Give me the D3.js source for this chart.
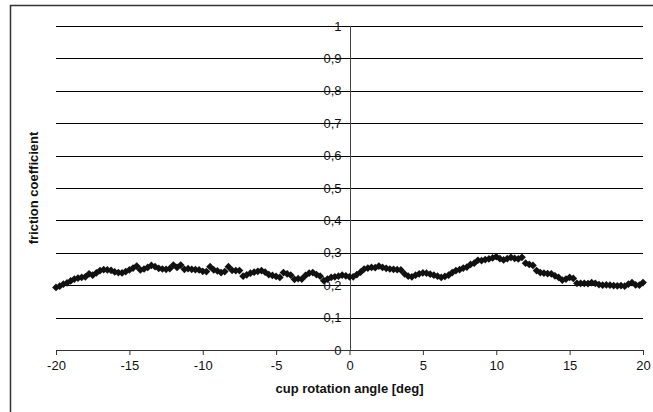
<!DOCTYPE html>
<html>
<head>
<meta charset="utf-8">
<script src="https://cdn.jsdelivr.net/npm/d3@7"></script>
<style>
  body { margin: 0; background: #fff; }
  text { font-family: "Liberation Sans", Arial, sans-serif; }
</style>
</head>
<body>
<script>
/// chart data
var angles = [];
for (let i = 0; i <= 160; i++) angles.push(-20 + i*0.25);

var friction = [
  0.193,0.197,0.203,0.207,0.213,0.219,0.222,0.224,0.226,0.235,
  0.231,0.238,0.245,0.248,0.247,0.246,0.241,0.239,0.238,0.242,
  0.247,0.253,0.259,0.247,0.250,0.255,0.261,0.257,0.252,0.250,
  0.249,0.251,0.262,0.255,0.262,0.249,0.251,0.249,0.248,0.247,
  0.243,0.242,0.257,0.247,0.244,0.239,0.242,0.257,0.246,0.245,
  0.245,0.228,0.232,0.237,0.240,0.243,0.245,0.240,0.233,0.230,
  0.227,0.224,0.239,0.235,0.231,0.218,0.220,0.219,0.230,0.237,
  0.239,0.233,0.228,0.214,0.219,0.224,0.226,0.228,0.231,0.229,
  0.226,0.226,0.233,0.240,0.250,0.253,0.255,0.254,0.259,0.255,
  0.252,0.250,0.249,0.248,0.247,0.235,0.228,0.226,0.231,0.235,
  0.238,0.237,0.234,0.231,0.228,0.224,0.227,0.231,0.239,0.245,
  0.248,0.253,0.256,0.264,0.268,0.277,0.276,0.279,0.281,0.284,
  0.288,0.282,0.278,0.282,0.286,0.283,0.281,0.286,0.268,0.264,
  0.261,0.245,0.239,0.237,0.236,0.235,0.229,0.224,0.216,0.219,
  0.224,0.221,0.206,0.206,0.206,0.205,0.208,0.206,0.202,0.200,
  0.201,0.200,0.199,0.198,0.199,0.197,0.203,0.208,0.201,0.200,
  0.208
];

var xTicks = [-20, -15, -10, -5, 0, 5, 10, 15, 20];
var yTicks = [0, 0.1, 0.2, 0.3, 0.4, 0.5, 0.6, 0.7, 0.8, 0.9, 1];

var xTitle = "cup rotation angle [deg]",
    yTitle = "friction coefficient";

/// dimensions
var W = 653, H = 412;
var plot = {left: 56, right: 643, top: 26, bottom: 350};

var svg = d3.select("body").append("svg")
            .attr("width", W)
            .attr("height", H);

var x = d3.scaleLinear().domain([-20, 20]).range([plot.left, plot.right]);
var y = d3.scaleLinear().domain([0, 1]).range([plot.bottom, plot.top]);

// excel style labels: comma decimal, plain hyphen minus
var fmtY = d => String(+d.toFixed(1)).replace(".", ",");
var fmtX = d => String(d);

// outer frame (only top and left edges are visible)
svg.append("path")
   .attr("d", "M10.5," + H + " L10.5,5.5 L" + W + ",5.5")
   .attr("fill", "none")
   .attr("stroke", "#333")
   .attr("stroke-width", 1.5);

// gridlines
svg.append("g")
   .selectAll("line")
   .data(yTicks.filter(d => d > 0))
   .enter()
   .append("line")
   .attr("x1", plot.left)
   .attr("x2", plot.right)
   .attr("y1", d => Math.round(y(d)) + 0.5)
   .attr("y2", d => Math.round(y(d)) + 0.5)
   .attr("stroke", "#000")
   .attr("stroke-width", 1);

// y tick labels (drawn at x = 0, gridlines pass through them)
var yAxisX = Math.round(x(0)) + 0.5;

var yG = svg.append("g");
yG.selectAll("text")
  .data(yTicks)
  .enter()
  .append("text")
  .attr("x", yAxisX - 9)
  .attr("y", d => y(d))
  .attr("dy", "0.35em")
  .attr("text-anchor", "end")
  .style("font-size", "13px")
  .attr("fill", "#111")
  .text(fmtY);

yG.selectAll("line")
  .data(yTicks)
  .enter()
  .append("line")
  .attr("x1", yAxisX - 3)
  .attr("x2", yAxisX + 2)
  .attr("y1", d => Math.round(y(d)) + 0.5)
  .attr("y2", d => Math.round(y(d)) + 0.5)
  .attr("stroke", "#000");

// vertical axis at x = 0
svg.append("line")
   .attr("x1", yAxisX)
   .attr("x2", yAxisX)
   .attr("y1", plot.top)
   .attr("y2", plot.bottom)
   .attr("stroke", "#444")
   .attr("stroke-width", 1);

// x axis
var xAxis = d3.axisBottom(x)
              .tickValues(xTicks)
              .tickFormat(fmtX)
              .tickSize(5)
              .tickSizeOuter(0)
              .tickPadding(6);

var xG = svg.append("g")
            .attr("transform", "translate(0," + plot.bottom + ")")
            .call(xAxis);

xG.select(".domain").attr("stroke", "#333");
xG.selectAll(".tick line").attr("stroke", "#333");
xG.selectAll(".tick text")
  .style("font-size", "13px")
  .style("font-family", "Liberation Sans, Arial, sans-serif")
  .attr("fill", "#111");

// data markers (diamonds)
var diamond = d3.symbol().type(d3.symbolSquare).size(30);

svg.append("g")
   .selectAll("path")
   .data(angles.map((a, i) => ({a: a, f: friction[i]})))
   .enter()
   .append("path")
   .attr("d", diamond)
   .attr("transform", d => "translate(" + x(d.a) + "," + y(d.f) + ") rotate(45)")
   .attr("fill", "#111");

// axis titles
svg.append("text")
   .attr("x", (plot.left + plot.right)/2)
   .attr("y", 393)
   .attr("text-anchor", "middle")
   .style("font-size", "13px")
   .style("font-weight", "bold")
   .attr("fill", "#111")
   .text(xTitle);

svg.append("text")
   .attr("transform", "translate(38," + (plot.top + plot.bottom)/2 + ") rotate(-90)")
   .attr("text-anchor", "middle")
   .style("font-size", "13px")
   .style("font-weight", "bold")
   .attr("fill", "#111")
   .text(yTitle);
</script>
</body>
</html>
